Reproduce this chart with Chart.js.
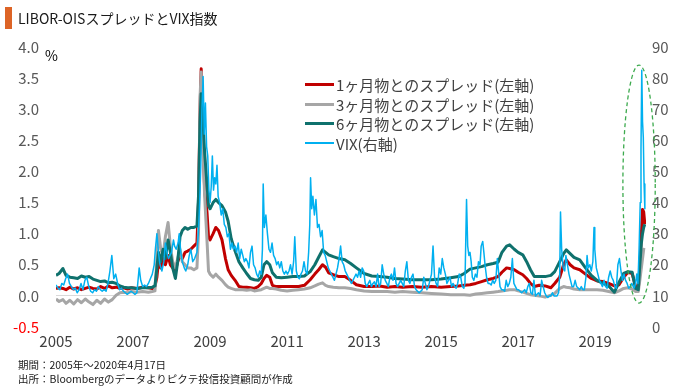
<!DOCTYPE html>
<html lang="ja">
<head>
<meta charset="utf-8">
<script src="https://cdn.jsdelivr.net/npm/chart.js@4.4.1/dist/chart.umd.min.js"></script>
<style>
html,body{margin:0;padding:0;background:#fff;}
#wrap{position:relative;width:680px;height:389px;overflow:hidden;font-family:"Noto Sans CJK JP","Noto Sans",sans-serif;}
#c{position:absolute;left:0;top:0;}
.bar{position:absolute;left:5px;top:7px;width:7px;height:22px;background:#DD6426;}
.title{position:absolute;left:18px;top:8px;font-size:14px;line-height:20px;color:#1a1a1a;white-space:nowrap;}
.unit{position:absolute;left:45px;top:46px;font-size:14px;line-height:18px;color:#000;}
.legend{position:absolute;left:305px;top:75px;font-size:15px;color:#404040;}
.legend .row{height:19.5px;line-height:19.5px;display:flex;align-items:center;white-space:nowrap;}
.legend .sw{width:29px;margin-right:2px;display:inline-block;}
.note{position:absolute;left:18px;font-size:10.5px;line-height:13px;color:#1a1a1a;white-space:nowrap;}
</style>
</head>
<body>
<div id="wrap">
  <canvas id="c" width="680" height="389"></canvas>
  <div class="bar"></div>
  <div class="title">LIBOR-OISスプレッドとVIX指数</div>
  <div class="unit">%</div>
  <div class="legend" id="legend"></div>
  <div class="note" style="top:358px">期間：2005年～2020年4月17日</div>
  <div class="note" style="top:372px">出所：Bloombergのデータよりピクテ投信投資顧問が作成</div>
</div>
<script>
// ---------- DATA ----------
const seriesNames = ['1ヶ月物とのスプレッド(左軸)','3ヶ月物とのスプレッド(左軸)','6ヶ月物とのスプレッド(左軸)','VIX(右軸)'];
const xTickYears = [2005, 2007, 2009, 2011, 2013, 2015, 2017, 2019];

const spreadDates = [
  2005.00,2005.08,2005.18,2005.26,2005.36,2005.46,2005.56,2005.66,2005.76,2005.86,
  2005.96,2006.06,2006.16,2006.26,2006.36,2006.46,2006.56,2006.66,2006.76,2006.86,
  2006.96,2007.10,2007.25,2007.40,2007.50,2007.57,2007.62,2007.66,2007.72,2007.78,
  2007.84,2007.91,2007.97,2008.03,2008.10,2008.16,2008.22,2008.28,2008.35,2008.42,
  2008.50,2008.58,2008.66,2008.70,2008.74,2008.77,2008.81,2008.86,2008.92,2008.96,
  2009.00,2009.08,2009.15,2009.22,2009.31,2009.40,2009.47,2009.55,2009.65,2009.75,
  2009.85,2009.95,2010.05,2010.15,2010.25,2010.33,2010.40,2010.47,2010.55,2010.62,
  2010.72,2010.85,2011.00,2011.15,2011.30,2011.45,2011.60,2011.72,2011.82,2011.92,
  2012.00,2012.08,2012.20,2012.35,2012.50,2012.65,2012.80,2013.00,2013.20,2013.40,
  2013.60,2013.80,2014.00,2014.25,2014.50,2014.75,2015.00,2015.25,2015.45,2015.60,
  2015.75,2015.90,2016.05,2016.20,2016.35,2016.48,2016.58,2016.70,2016.78,2016.90,
  2017.00,2017.12,2017.22,2017.32,2017.42,2017.55,2017.70,2017.85,2017.95,2018.08,
  2018.18,2018.25,2018.35,2018.45,2018.60,2018.75,2018.90,2019.05,2019.20,2019.35,
  2019.50,2019.62,2019.74,2019.85,2019.96,2020.05,2020.12,2020.16,2020.20,2020.23,
  2020.26,2020.29
];
const spread1M = [
  0.12,0.13,0.12,0.10,0.14,0.11,0.13,0.10,0.12,0.14,
  0.12,0.11,0.15,0.12,0.16,0.13,0.14,0.12,0.13,0.11,
  0.13,0.12,0.14,0.13,0.12,0.15,0.30,0.55,0.45,0.60,
  0.50,0.65,0.50,0.45,0.40,0.55,0.65,0.60,0.70,0.72,
  0.75,0.80,0.85,1.50,3.00,3.65,2.60,1.70,1.35,0.95,
  0.90,1.00,1.10,1.05,0.90,0.60,0.42,0.33,0.25,0.15,
  0.14,0.14,0.13,0.12,0.15,0.20,0.28,0.33,0.30,0.17,
  0.15,0.15,0.15,0.15,0.15,0.17,0.26,0.35,0.42,0.50,
  0.46,0.37,0.34,0.31,0.31,0.25,0.18,0.15,0.15,0.16,
  0.14,0.15,0.14,0.15,0.14,0.15,0.14,0.15,0.16,0.17,
  0.18,0.20,0.23,0.26,0.28,0.31,0.38,0.45,0.44,0.42,
  0.38,0.34,0.28,0.20,0.15,0.17,0.16,0.13,0.20,0.30,
  0.50,0.58,0.50,0.45,0.42,0.35,0.28,0.24,0.23,0.20,
  0.16,0.18,0.30,0.38,0.36,0.15,0.10,0.45,1.00,1.39,
  1.35,1.15
];
const spread3M = [
  -0.05,-0.09,-0.06,-0.12,-0.07,-0.13,-0.06,-0.11,-0.05,-0.10,
  -0.14,-0.07,-0.12,-0.05,-0.10,-0.06,0.01,0.05,0.06,0.05,
  0.07,0.06,0.07,0.06,0.07,0.08,0.60,1.05,0.75,0.65,
  0.95,1.18,0.80,0.55,0.45,0.60,0.75,0.55,0.50,0.45,
  0.45,0.42,0.45,1.00,3.20,3.60,2.50,1.60,0.90,0.40,
  0.35,0.30,0.35,0.30,0.25,0.18,0.14,0.12,0.10,0.10,
  0.10,0.09,0.10,0.08,0.09,0.10,0.12,0.14,0.12,0.12,
  0.11,0.09,0.08,0.09,0.10,0.11,0.13,0.16,0.19,0.21,
  0.17,0.15,0.14,0.13,0.13,0.12,0.10,0.08,0.07,0.07,
  0.07,0.06,0.07,0.06,0.05,0.04,0.03,0.02,0.02,0.02,
  0.01,0.03,0.04,0.05,0.06,0.07,0.08,0.09,0.10,0.10,
  0.08,0.06,0.04,0.02,0.01,0.00,-0.02,0.01,0.04,0.12,
  0.15,0.14,0.13,0.11,0.10,0.10,0.10,0.10,0.09,0.07,
  0.05,0.08,0.12,0.13,0.11,0.07,0.07,0.25,0.45,0.60,
  0.75,0.74
];
const spread6M = [
  0.33,0.36,0.44,0.33,0.30,0.29,0.28,0.32,0.30,0.31,
  0.27,0.25,0.23,0.24,0.21,0.22,0.20,0.16,0.14,0.13,
  0.13,0.12,0.13,0.13,0.14,0.16,0.45,0.70,0.55,0.75,
  0.60,0.90,0.70,0.45,0.28,0.55,0.95,1.05,1.10,1.07,
  1.10,1.10,1.12,1.60,2.80,3.25,2.90,2.30,1.80,1.45,
  1.40,1.50,1.55,1.50,1.45,1.35,1.20,0.92,0.72,0.55,
  0.45,0.36,0.28,0.26,0.25,0.30,0.50,0.55,0.50,0.37,
  0.30,0.29,0.30,0.31,0.31,0.32,0.39,0.50,0.62,0.74,
  0.70,0.66,0.63,0.60,0.58,0.52,0.45,0.36,0.32,0.31,
  0.30,0.28,0.27,0.26,0.26,0.26,0.27,0.29,0.31,0.36,
  0.43,0.45,0.47,0.50,0.52,0.54,0.70,0.80,0.82,0.75,
  0.70,0.66,0.55,0.42,0.31,0.31,0.31,0.33,0.39,0.55,
  0.68,0.74,0.68,0.62,0.58,0.45,0.33,0.25,0.20,0.16,
  0.06,0.22,0.36,0.39,0.38,0.12,0.10,0.50,0.85,1.00,
  1.10,1.15
];

const vixDates = [
  2005.00,2005.05,2005.10,2005.15,2005.20,2005.25,2005.30,2005.35,2005.40,2005.45,2005.50,2005.55,2005.60,2005.65,2005.70,2005.75,2005.80,2005.85,2005.90,2005.95,
  2006.00,2006.05,2006.10,2006.15,2006.20,2006.25,2006.30,2006.35,2006.40,2006.45,2006.50,2006.55,2006.60,2006.65,2006.70,2006.75,2006.80,2006.85,2006.90,2006.95,
  2007.00,2007.05,2007.10,2007.16,2007.20,2007.25,2007.30,2007.35,2007.40,2007.45,2007.50,2007.55,2007.58,2007.62,2007.66,2007.70,2007.75,2007.80,2007.84,2007.88,2007.92,2007.96,
  2008.00,2008.05,2008.08,2008.12,2008.17,2008.20,2008.24,2008.28,2008.33,2008.37,2008.42,2008.46,2008.50,2008.55,2008.60,2008.66,2008.70,2008.73,2008.76,2008.79,2008.82,2008.85,2008.88,2008.91,2008.94,2008.97,
  2009.00,2009.03,2009.06,2009.09,2009.12,2009.15,2009.18,2009.21,2009.25,2009.29,2009.33,2009.37,2009.41,2009.45,2009.49,2009.53,2009.57,2009.61,2009.65,2009.69,2009.73,2009.77,2009.81,2009.85,2009.89,2009.93,2009.97,
  2010.01,2010.05,2010.09,2010.13,2010.17,2010.21,2010.25,2010.29,2010.33,2010.36,2010.38,2010.41,2010.45,2010.49,2010.53,2010.57,2010.61,2010.65,2010.69,2010.73,2010.77,2010.81,2010.85,2010.89,2010.93,2010.97,
  2011.01,2011.05,2011.09,2011.13,2011.17,2011.20,2011.24,2011.28,2011.32,2011.36,2011.40,2011.44,2011.48,2011.52,2011.56,2011.59,2011.61,2011.64,2011.67,2011.71,2011.75,2011.79,2011.83,2011.87,2011.91,2011.95,2011.99,
  2012.03,2012.07,2012.11,2012.15,2012.19,2012.23,2012.27,2012.31,2012.35,2012.39,2012.43,2012.47,2012.51,2012.55,2012.59,2012.63,2012.67,2012.71,2012.75,2012.79,2012.83,2012.87,2012.91,2012.95,2012.99,
  2013.03,2013.07,2013.11,2013.15,2013.19,2013.23,2013.27,2013.31,2013.35,2013.39,2013.43,2013.47,2013.51,2013.55,2013.59,2013.63,2013.67,2013.71,2013.75,2013.79,2013.83,2013.87,2013.91,2013.95,2013.99,
  2014.03,2014.07,2014.11,2014.15,2014.19,2014.23,2014.27,2014.31,2014.35,2014.39,2014.43,2014.47,2014.51,2014.55,2014.59,2014.63,2014.67,2014.71,2014.75,2014.79,2014.83,2014.87,2014.91,2014.95,2014.99,
  2015.03,2015.07,2015.11,2015.15,2015.19,2015.23,2015.27,2015.31,2015.35,2015.39,2015.43,2015.47,2015.51,2015.55,2015.59,2015.62,2015.64,2015.66,2015.69,2015.72,2015.75,2015.78,2015.81,2015.85,2015.89,2015.93,2015.97,
  2016.01,2016.04,2016.08,2016.11,2016.14,2016.18,2016.22,2016.26,2016.30,2016.34,2016.38,2016.42,2016.46,2016.49,2016.53,2016.57,2016.61,2016.65,2016.69,2016.73,2016.77,2016.81,2016.85,2016.89,2016.93,2016.97,
  2017.01,2017.05,2017.09,2017.13,2017.17,2017.21,2017.25,2017.29,2017.33,2017.37,2017.41,2017.45,2017.49,2017.53,2017.57,2017.61,2017.65,2017.69,2017.73,2017.77,2017.81,2017.85,2017.89,2017.93,2017.97,
  2018.01,2018.05,2018.08,2018.10,2018.13,2018.17,2018.21,2018.24,2018.28,2018.32,2018.36,2018.40,2018.44,2018.48,2018.52,2018.56,2018.60,2018.64,2018.68,2018.72,2018.76,2018.79,2018.82,2018.86,2018.90,2018.94,2018.97,2018.99,
  2019.03,2019.07,2019.11,2019.15,2019.19,2019.23,2019.27,2019.31,2019.35,2019.39,2019.43,2019.47,2019.51,2019.55,2019.59,2019.63,2019.67,2019.71,2019.75,2019.79,2019.83,2019.87,2019.91,2019.95,2019.99,
  2020.01,2020.05,2020.08,2020.11,2020.14,2020.17,2020.19,2020.21,2020.23,2020.25,2020.27,2020.29
];
const vixValues = [
  13.5,12.5,12,14,13.5,15.5,17,14,13,12,12.5,11,12,14,12,15,16,13,11.5,11,
  12,11.5,13,12,11.5,12,11.5,14,18,23,15.5,17,14,12,12.5,11.5,11,10.5,11,11.5,
  11,10.5,11,19,15,13,13.5,13,14,15.5,17,20,25,30,24,20,18,21,27,24,22,23,
  24,28,26,25,27,30,24,21,19,18,20,23,25,21,22,24,31,40,52,70,80.5,62,72,58,55,44,
  40,45,55,44,48,46,52,42,40,36,38,33,32,29,30,25,27,25,26,24,27,22,25,23,21,22,21,
  19,24,26,20,19,17,16,18,17,25,46,32,36,30,25,24,27,23,22,20,21,19,21,18,17,18,
  17,18,20,17,21,29,18,16,15.5,17,18,21,18,17,24,33,48,38,42,36,41,32,33,29,31,24,23,
  21,19,18,17,16,15,17,19,22,26,21,20,18,17,16,15,14,15,16,17,16,18,16,19,18,
  14,13,14,15,13,14,14.5,13,17,13,14,20,17,15,14,13,16,17,15,19,14,13,14,15,14,
  13,18,21,15,14,16,17,13,12,11.5,11,11.5,12,16,14,12,13,15,17,26,16,14,13,19,17,
  22,19,17,14,15,16,13,14,13,12.5,14,17,16,13,12.5,14,28,41,26,23,24,21,16,15,17,16,21,
  20,26,27.5,24,20,16,14,14,13.5,15,14,15,22,18,13,12,12,11.5,15,13,14,16,22,14,13,12,
  12,11.5,11,11.5,12,11,13,14,11,10.5,15,10,10.5,11,10,15,13,11,10,9.5,10,10,11,10,10,
  10,11,17,37,25,19,18,23,20,17,15,13,13,15,13,12.5,12,13,12,12,16,23,19,20,18,21,32,25,
  19,17,15,14,13,15,13,12.5,16,18,16,15,13,12.5,20,22,18,15,17,15,14,12.5,13,14,13,
  12.5,14,17,14,25,40,57,82.5,66,61,46,38
];

// highlighted period (dashed ellipse), in axis units
const highlight = {fromYear: 2019.72, toYear: 2020.56, lowVix: 7.7, highVix: 84.2};

// ---------- STYLE ----------
const colors = ['#C00000', '#A6A6A6', '#0F716D', '#00B0F0'];
const widths = [3, 3, 3, 1.5];
const swatchWidths = [3, 3, 3, 2];
const FONT = '"Noto Sans CJK JP","Noto Sans",sans-serif';

function toPoints(xs, ys) { return xs.map((x, i) => ({x: x, y: ys[i]})); }

// legend (HTML)
const leg = document.getElementById('legend');
seriesNames.forEach((n, i) => {
  const row = document.createElement('div');
  row.className = 'row';
  const sw = document.createElement('span');
  sw.className = 'sw';
  sw.style.height = swatchWidths[i] + 'px';
  sw.style.background = colors[i];
  row.appendChild(sw);
  const t = document.createElement('span');
  t.textContent = n;
  row.appendChild(t);
  leg.appendChild(row);
});

const ellipsePlugin = {
  id: 'ellipse',
  afterDatasetsDraw(chart) {
    const xs = chart.scales.x, ys = chart.scales.y1, ctx = chart.ctx;
    const x0 = xs.getPixelForValue(highlight.fromYear), x1 = xs.getPixelForValue(highlight.toYear);
    const y0 = ys.getPixelForValue(highlight.highVix), y1 = ys.getPixelForValue(highlight.lowVix);
    ctx.save();
    ctx.beginPath();
    ctx.setLineDash([4, 3]);
    ctx.strokeStyle = '#3DAA4E';
    ctx.lineWidth = 1.3;
    ctx.ellipse((x0 + x1) / 2, (y0 + y1) / 2, (x1 - x0) / 2, (y1 - y0) / 2, 0, 0, Math.PI * 2);
    ctx.stroke();
    ctx.restore();
  }
};

const datasets = [
  {label: seriesNames[3], data: toPoints(vixDates, vixValues), yAxisID: 'y1', order: 0},
  {label: seriesNames[2], data: toPoints(spreadDates, spread6M), yAxisID: 'y', order: 1},
  {label: seriesNames[1], data: toPoints(spreadDates, spread3M), yAxisID: 'y', order: 2},
  {label: seriesNames[0], data: toPoints(spreadDates, spread1M), yAxisID: 'y', order: 3}
];
const styleIdx = [3, 2, 1, 0];
datasets.forEach((d, k) => {
  const i = styleIdx[k];
  d.borderColor = colors[i];
  d.backgroundColor = colors[i];
  d.borderWidth = widths[i];
  d.pointRadius = 0;
  d.tension = 0;
  d.fill = false;
  d.borderJoinStyle = 'round';
});

new Chart(document.getElementById('c'), {
  type: 'line',
  data: {datasets: datasets},
  plugins: [ellipsePlugin],
  options: {
    responsive: false,
    animation: false,
    devicePixelRatio: 1,
    layout: {padding: {top: 47, left: 0, right: 0, bottom: 0}},
    plugins: {legend: {display: false}, tooltip: {enabled: false}},
    scales: {
      x: {
        type: 'linear', position: 'bottom',
        min: 2005, max: 2020.32,
        grid: {display: false, drawTicks: false},
        border: {display: false},
        afterBuildTicks: s => { s.ticks = xTickYears.map(v => ({value: v})); },
        afterFit: s => { s.height = 62; },
        ticks: {
          autoSkip: false, maxRotation: 0, padding: 5,
          color: '#404040', font: {family: FONT, size: 15},
          callback: v => String(v)
        }
      },
      y: {
        position: 'left', min: -0.5, max: 4,
        afterFit: s => { s.width = 56; },
        grid: {
          drawTicks: false,
          color: c => (c.tick && Math.abs(c.tick.value) < 1e-9) ? '#D9D9D9' : 'rgba(0,0,0,0)',
          lineWidth: 1
        },
        border: {display: false},
        ticks: {
          stepSize: 0.5, padding: 17,
          font: {family: FONT, size: 15},
          color: c => (c.tick && c.tick.value < 0) ? '#FF0000' : '#595959',
          callback: v => Number(v).toFixed(1)
        }
      },
      y1: {
        position: 'right', min: 0, max: 90,
        afterFit: s => { s.width = 34; },
        grid: {display: false, drawTicks: false},
        border: {display: false},
        ticks: {
          stepSize: 10, padding: 6,
          font: {family: FONT, size: 15}, color: '#595959'
        }
      }
    }
  }
});
</script>
</body>
</html>
